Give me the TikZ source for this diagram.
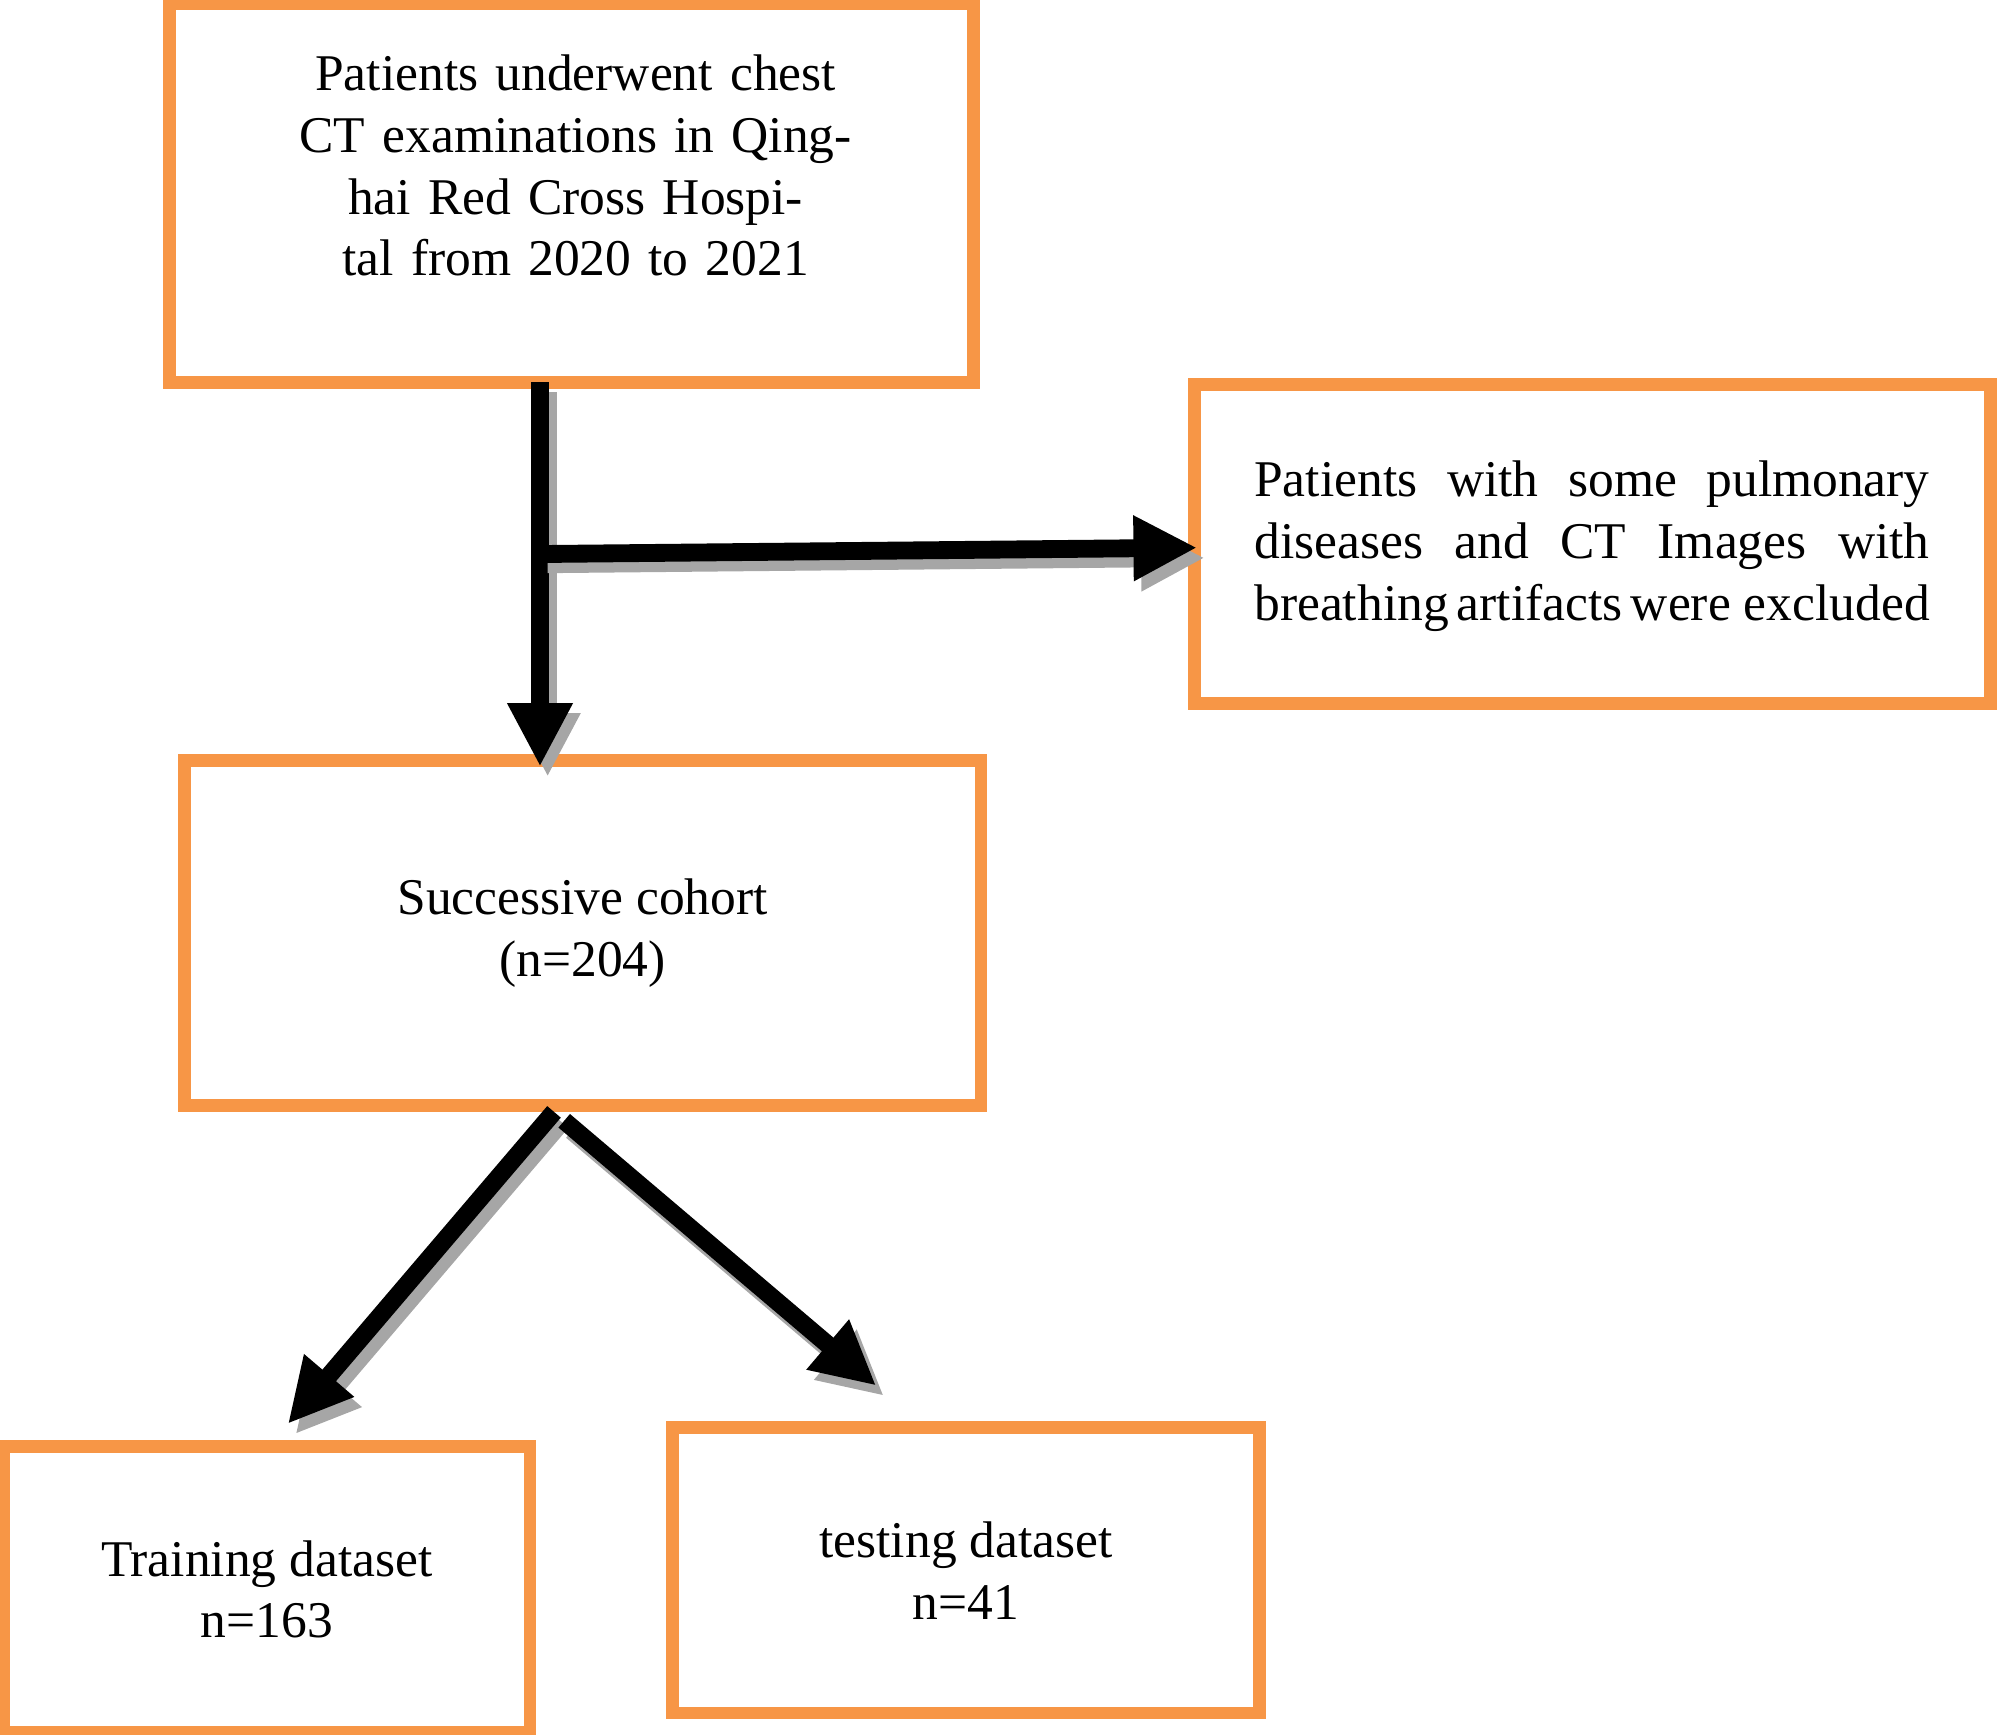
\documentclass[tikz,border=0pt]{standalone}
\usepackage{fontspec}
\setmainfont{Liberation Serif}
\usetikzlibrary{arrows.meta}
\definecolor{org}{HTML}{F79646}
\begin{document}
\begin{tikzpicture}[x=0.01cm,y=-0.01cm,
  box/.style={draw=org,line width=0.1cm,inner sep=0pt,font=\fontsize{11.5}{13.8}\selectfont},
  arr/.style={line width=0.14cm,-{Triangle[length=0.5cm,width=0.48cm]}},
  shd/.style={arr,draw=gray!70,fill=gray!70}]
\useasboundingbox (0,0) rectangle (1568,1362);
\node[box,minimum width=6.31cm,minimum height=2.97cm,align=center] (a) at (448.5,151.5) {};
\node[font=\fontsize{11.5}{13.8}\selectfont,align=center,text width=5.3cm] at (452,130) {Patients underwent chest CT examinations in Qinghai Red Cross Hospital from 2020 to 2021};
\node[box,minimum width=6.25cm,minimum height=2.5cm] (b) at (1250.5,427) {};
\node[font=\fontsize{11.5}{13.8}\selectfont,align=justify,text width=5.3cm] at (1250,429) {Patients with some pulmonary diseases and CT Images with breathing\hfill artifacts\hfill were excluded};
\node[box,minimum width=6.25cm,minimum height=2.71cm,align=center] (c) at (457.5,732.5) {Successive cohort\\(n=204)};
\node[box,minimum width=4.13cm,minimum height=2.24cm,align=center] (d) at (209.5,1248) {Training dataset\\n=163};
\node[box,minimum width=4.61cm,minimum height=2.24cm,align=center] (e) at (758.5,1233) {testing dataset\\n=41};
\coordinate (v0) at (424,300); \coordinate (v1) at (424,602);
\coordinate (h0) at (424,435); \coordinate (h1) at (940,430);
\coordinate (l0) at (435,873); \coordinate (l1) at (226,1118);
\coordinate (r0) at (443,880); \coordinate (r1) at (688,1088);
\foreach \p/\q in {v0/v1,h0/h1,l0/l1,r0/r1}{
  \draw[shd] ([shift={(6,8)}]\p) -- ([shift={(6,8)}]\q);
  \draw[arr] (\p) -- (\q);}
\end{tikzpicture}
\end{document}
